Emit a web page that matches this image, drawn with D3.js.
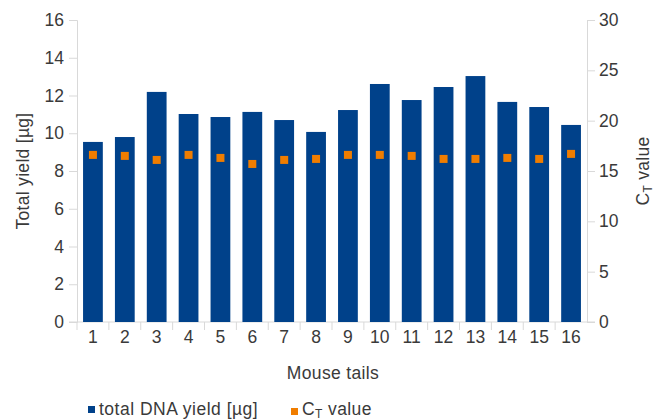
<!DOCTYPE html>
<html>
<head>
<meta charset="utf-8">
<script src="https://cdn.jsdelivr.net/npm/d3@7"></script>
<style>
  body { margin: 0; background: #fff; }
  svg text { font-family: "Liberation Sans", Arial, sans-serif; fill: #3a3a3a; }
</style>
</head>
<body>
<svg id="chart" width="654" height="420"></svg>
<script>
// data
var mouseTails = ['1','2','3','4','5','6','7','8','9','10','11','12','13','14','15','16'];
var dnaYield = [9.54, 9.80, 12.19, 11.02, 10.86, 11.13, 10.70, 10.07, 11.23, 12.61, 11.76, 12.45, 13.03, 11.66, 11.39, 10.44];
var ctValue = [16.6, 16.5, 16.1, 16.6, 16.3, 15.7, 16.1, 16.2, 16.6, 16.6, 16.5, 16.2, 16.2, 16.3, 16.2, 16.7];
var leftTicks = [0, 2, 4, 6, 8, 10, 12, 14, 16];
var rightTicks = [0, 5, 10, 15, 20, 25, 30];

var barColor = '#00418a';
var dotColor = '#f07d00';
var gridColor = '#d9d9d9';
var fontSize = 17.5;

const svg = d3.select('#chart');
const margin = {top: 20, right: 67, bottom: 98, left: 77};
const width = 654, height = 420;

const x = d3.scaleBand()
	.domain(mouseTails)
	.range([margin.left, width - margin.right])
	.paddingInner(0.38)
	.paddingOuter(0.19);

// band without padding, for the category ticks
const xb = d3.scaleBand()
	.domain(mouseTails)
	.range([margin.left, width - margin.right]);

const yL = d3.scaleLinear().domain([0, 16]).range([height - margin.bottom, margin.top]);
const yR = d3.scaleLinear().domain([0, 30]).range([height - margin.bottom, margin.top]);

const baseY = height - margin.bottom;

// left axis
const yAxisL = g => g
	.attr('transform', `translate(${margin.left},0)`)
	.call(d3.axisLeft(yL).tickValues(leftTicks).tickSize(8).tickPadding(5))
	.call(g => g.select('.domain').attr('stroke', gridColor))
	.call(g => g.selectAll('.tick line').attr('stroke', gridColor))
	.call(g => g.selectAll('text').attr('font-size', fontSize).attr('fill', '#3a3a3a'));

// right axis
const yAxisR = g => g
	.attr('transform', `translate(${width - margin.right},0)`)
	.call(d3.axisRight(yR).tickValues(rightTicks).tickSize(8).tickPadding(4))
	.call(g => g.select('.domain').attr('stroke', gridColor))
	.call(g => g.selectAll('.tick line').attr('stroke', gridColor))
	.call(g => g.selectAll('text').attr('font-size', fontSize).attr('fill', '#3a3a3a'));

svg.append('g').call(yAxisL);
svg.append('g').call(yAxisR);

// x axis base line and category ticks
svg.append('line')
	.attr('x1', margin.left - 8).attr('x2', width - margin.right + 8)
	.attr('y1', baseY).attr('y2', baseY)
	.attr('stroke', gridColor);

svg.append('g')
	.selectAll('line').data(mouseTails).enter().append('line')
	.attr('x1', d => xb(d)).attr('x2', d => xb(d))
	.attr('y1', baseY).attr('y2', baseY + 8)
	.attr('stroke', gridColor);

svg.append('g')
	.selectAll('text').data(mouseTails).enter().append('text')
	.attr('x', d => xb(d) + xb.bandwidth() / 2)
	.attr('y', baseY + 21)
	.attr('text-anchor', 'middle')
	.attr('font-size', fontSize)
	.text(d => d);

// bars
svg.append('g')
	.selectAll('rect').data(dnaYield).enter().append('rect')
	.attr('x', (d, i) => x(mouseTails[i]))
	.attr('y', d => yL(d))
	.attr('width', x.bandwidth())
	.attr('height', d => yL(0) - yL(d))
	.attr('fill', barColor);

// CT markers
const ms = 8;
svg.append('g')
	.selectAll('rect').data(ctValue).enter().append('rect')
	.attr('x', (d, i) => x(mouseTails[i]) + x.bandwidth() / 2 - ms / 2)
	.attr('y', d => yR(d) - ms / 2)
	.attr('width', ms).attr('height', ms)
	.attr('fill', dotColor);

// axis titles
svg.append('text')
	.attr('transform', `translate(29,${(margin.top + baseY) / 2}) rotate(-90)`)
	.attr('text-anchor', 'middle')
	.attr('font-size', fontSize)
	.attr('letter-spacing', 0.3)
	.text('Total yield [µg]');

const rt = svg.append('text')
	.attr('transform', `translate(649,${(margin.top + baseY) / 2}) rotate(-90)`)
	.attr('text-anchor', 'middle')
	.attr('font-size', fontSize)
	.attr('letter-spacing', 0.3);
rt.append('tspan').text('C');
rt.append('tspan').attr('font-size', 12).attr('dy', 3).text('T');
rt.append('tspan').attr('dy', -3).text(' value');

svg.append('text')
	.attr('x', (margin.left + width - margin.right) / 2 + 1)
	.attr('y', 379)
	.attr('text-anchor', 'middle')
	.attr('font-size', fontSize)
	.attr('letter-spacing', 0.35)
	.text('Mouse tails');

// legend
const legend = svg.append('g');
legend.append('rect').attr('x', 88).attr('y', 406).attr('width', 7).attr('height', 7).attr('fill', barColor);
legend.append('text').attr('x', 99).attr('y', 415).attr('font-size', fontSize).attr('letter-spacing', 0.5).text('total DNA yield [µg]');
legend.append('rect').attr('x', 291).attr('y', 408).attr('width', 7).attr('height', 7).attr('fill', dotColor);
const lt = legend.append('text').attr('x', 302).attr('y', 415).attr('font-size', fontSize).attr('letter-spacing', 0.4);
lt.append('tspan').text('C');
lt.append('tspan').attr('font-size', 12).attr('dy', 3).text('T');
lt.append('tspan').attr('dy', -3).text(' value');
</script>
</body>
</html>
